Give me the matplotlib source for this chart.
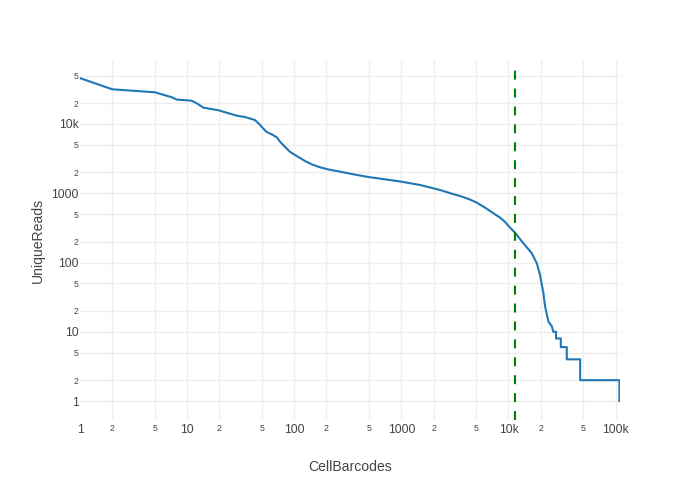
import numpy as np
import matplotlib
matplotlib.use('Agg')
import matplotlib.pyplot as plt

plt.rcParams['font.family'] = ['Liberation Sans', 'DejaVu Sans']

# knee plot: barcode rank vs unique reads
rank = [1, 2, 5, 7.2, 8, 11, 12.5, 14.2, 19.5, 29, 34.7, 43, 48, 51, 55, 62,
        69, 74, 84, 91, 102, 126, 147, 174, 210, 268, 350, 475, 700, 973,
        1495, 2297, 3000, 3530, 4300, 5060, 6000, 6730, 7500, 8350, 9300,
        10350, 11500, 13800, 16500, 18400, 19700, 20500,
        21200, 21600, 22000, 23600, 25400, 26200,
        27800, 27800, 30800, 30800, 35000, 35000, 46700, 46700, 108500, 108500]
reads = [46000, 31700, 28700, 24300, 22500, 21700, 19600, 17200, 15800, 13200,
         12600, 11400, 9700, 8700, 7700, 7050, 6400, 5500, 4500, 3980, 3560,
         2920, 2600, 2370, 2200, 2050, 1890, 1730, 1590, 1480, 1316, 1114,
         980, 913, 820, 731, 625, 555, 495, 445, 385, 318, 270, 189, 136, 97,
         66, 47, 36, 28, 23, 14, 12, 10,
         10, 8, 8, 6, 6, 4, 4, 2, 2, 1]

cutoff = 11600
cutoff_top = 62000

x_ticks = [1, 2, 5, 10, 20, 50, 100, 200, 500, 1000, 2000, 5000,
           10000, 20000, 50000, 100000]
x_labels = ['1', '2', '5', '10', '2', '5', '100', '2', '5', '1000', '2', '5',
            '10k', '2', '5', '100k']
y_ticks = [1, 2, 5, 10, 20, 50, 100, 200, 500, 1000, 2000, 5000, 10000, 20000, 50000]
y_labels = ['1', '2', '5', '10', '2', '5', '100', '2', '5', '1000', '2', '5',
            '10k', '2', '5']

fig = plt.figure(figsize=(7, 5), dpi=100)
ax = fig.add_axes([80 / 700, 80 / 500, 540 / 700, 360 / 500])

ax.plot(rank, reads, color='#1f77b4', lw=1.5, solid_joinstyle='round', zorder=3)
ylo = 10 ** -0.274
ax.vlines(cutoff, ylo, cutoff_top, colors='green', lw=1.5,
          linestyles=(0, (4.3, 4.3)), zorder=4)

ax.set_xscale('log')
ax.set_yscale('log')
ax.set_xlim(1, 10 ** 5.041)
ax.set_ylim(ylo, 10 ** 4.924)

ax.set_xticks(x_ticks)
ax.set_xticklabels(x_labels)
ax.set_yticks(y_ticks)
ax.set_yticklabels(y_labels)
ax.minorticks_off()

for lab in ax.get_xticklabels() + ax.get_yticklabels():
    small = lab.get_text() in ('2', '5')
    lab.set_fontsize(6.3 if small else 8.7)
    lab.set_color('#444444')

ax.tick_params(length=0, pad=1)
ax.tick_params(axis='x', pad=3)
ax.grid(True, color='#eeeeee', lw=1)
ax.xaxis.get_gridlines()[0].set_visible(False)
ax.set_axisbelow(True)
for s in ax.spines.values():
    s.set_visible(False)

ax.set_xlabel('CellBarcodes', fontsize=10.1, color='#444444', va='center')
ax.set_ylabel('UniqueReads', fontsize=10.1, color='#444444', va='center')
ax.xaxis.set_label_coords(0.5, (420 - 467) / 360)
ax.yaxis.set_label_coords((38 - 80) / 540, 0.5)

fig.savefig('out.png', dpi=100)
